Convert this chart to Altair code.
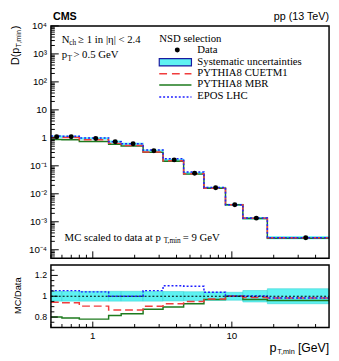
import altair as alt
import pandas as pd

# ---------------- data ----------------
bin_lo = [0.5, 0.6, 0.8, 1.3, 1.6, 2.3, 3.2, 4.5, 6.3, 9.0, 12.0, 18.0]
bin_hi = [0.6, 0.8, 1.3, 1.6, 2.3, 3.2, 4.5, 6.3, 9.0, 12.0, 18.0, 50.0]
pt_center = [0.55, 0.7, 1.05, 1.45, 1.95, 2.75, 3.85, 5.4, 7.65, 10.5, 15.0, 34.0]
data_D = [1.10, 1.09, 0.95, 0.73, 0.61, 0.346, 0.163, 0.0545, 0.0163, 0.00403, 0.00135, 0.000271]
syst_rel = [0.047, 0.047, 0.047, 0.047, 0.047, 0.047, 0.045, 0.043, 0.040, 0.038, 0.055, 0.072]
ratio_cuetm1 = [0.943, 0.937, 0.905, 0.868, 0.868, 0.903, 0.927, 0.950, 0.974, 1.000, 0.988, 0.984]
ratio_mbr = [0.800, 0.790, 0.780, 0.815, 0.832, 0.874, 0.896, 0.927, 0.969, 1.000, 0.969, 0.959]
ratio_epos = [1.054, 1.054, 1.042, 1.000, 1.000, 1.054, 1.100, 1.095, 1.038, 1.003, 1.003, 0.984]

x_major = [1, 10]
x_major_labels = ["1", "10"]
x_minor = [0.5, 0.6, 0.7, 0.8, 0.9, 2, 3, 4, 5, 6, 7, 8, 9, 20, 30, 40]
y_top_major = [1e-4, 1e-3, 1e-2, 1e-1, 1, 10, 100, 1000, 10000]
y_top_labels = ["10⁻⁴", "10⁻³", "10⁻²", "10⁻¹", "1", "10", "10²", "10³", "10⁴"]
y_top_minor = [k * 10.0 ** n for n in range(-5, 4) for k in range(2, 10) if 5e-5 <= k * 10.0 ** n <= 1e4]
y_rat_major = [0.8, 1.0, 1.2]
y_rat_labels = ["0.8", "1", "1.2"]
y_rat_minor = [0.75, 0.85, 0.9, 0.95, 1.05, 1.1, 1.15, 1.25]

# ---------------- styles ----------------
W, H = 285, 309
TOP_H = 238
R_TOP, R_BOT = 245, 309
SANS = "Liberation Sans"
SERIF = "Liberation Serif"
CYAN = "#5ef2f2"
RED = "#f03c3c"
GREEN = "#1e7b1e"
BLUE = "#1f1fff"

XS = alt.Scale(type="log", domain=[0.5, 50], nice=False)
YT = alt.Scale(type="log", domain=[5e-5, 1e4], range=[TOP_H, 0], nice=False)
YR = alt.Scale(type="linear", domain=[0.7, 1.3], range=[R_BOT, R_TOP], nice=False, zero=False)

dummy = pd.DataFrame({"a": [0]})


def txt(s, x, y, size=11, font=SANS, weight="normal", align="left", baseline="middle", angle=0):
    return alt.Chart(pd.DataFrame({"t": [s]})).mark_text(
        align=align, baseline=baseline, font=font, fontSize=size, fontWeight=weight,
        angle=angle, color="black").encode(x=alt.value(x), y=alt.value(y), text="t:N")


def steps(vals):
    xs, vs, os_ = [], [], []
    for i, (lo, hi, v) in enumerate(zip(bin_lo, bin_hi, vals)):
        xs += [lo, hi]
        vs += [v, v]
        os_ += [2 * i, 2 * i + 1]
    return pd.DataFrame({"x": xs, "v": vs, "o": os_})


def line(df, ys, color, dash=None, width=1.5):
    kw = dict(color=color, strokeWidth=width, clip=True)
    if dash:
        kw["strokeDash"] = dash
    return alt.Chart(df).mark_line(**kw).encode(
        x=alt.X("x:Q", scale=XS, axis=None),
        y=alt.Y("v:Q", scale=ys, axis=None),
        order="o:Q")


# ---------------- top panel ----------------
band_top = pd.DataFrame({
    "lo": bin_lo, "hi": bin_hi,
    "y1": [d * (1 - s) for d, s in zip(data_D, syst_rel)],
    "y2": [d * (1 + s) for d, s in zip(data_D, syst_rel)],
})
top_band = alt.Chart(band_top).mark_rect(fill=CYAN, stroke=CYAN, strokeWidth=1.2).encode(
    x=alt.X("lo:Q", scale=XS, axis=None), x2="hi:Q",
    y=alt.Y("y1:Q", scale=YT, axis=None), y2="y2:Q")

top_mbr = line(steps([r * d for r, d in zip(ratio_mbr, data_D)]), YT, GREEN)
top_cue = line(steps([r * d for r, d in zip(ratio_cuetm1, data_D)]), YT, RED, [8, 4])
top_epos = line(steps([r * d for r, d in zip(ratio_epos, data_D)]), YT, BLUE, [2, 2])

pts = alt.Chart(pd.DataFrame({"x": pt_center, "d": data_D})).mark_circle(
    size=26, color="black", opacity=1).encode(
    x=alt.X("x:Q", scale=XS, axis=None), y=alt.Y("d:Q", scale=YT, axis=None))

ytm = alt.Chart(pd.DataFrame({"v": y_top_major})).mark_rule(color="black", strokeWidth=1).encode(
    y=alt.Y("v:Q", scale=YT, axis=None), x=alt.value(0), x2=alt.value(8))
ytn = alt.Chart(pd.DataFrame({"v": y_top_minor})).mark_rule(color="black", strokeWidth=1).encode(
    y=alt.Y("v:Q", scale=YT, axis=None), x=alt.value(0), x2=alt.value(4))
ytl = alt.Chart(pd.DataFrame({"v": y_top_major, "t": y_top_labels})).mark_text(
    align="right", baseline="middle", font=SANS, fontSize=10, color="black").encode(
    y=alt.Y("v:Q", scale=YT, axis=None), x=alt.value(-4), text="t:N")

xt_top_major = alt.Chart(pd.DataFrame({"v": x_major})).mark_rule(color="black", strokeWidth=1).encode(
    x=alt.X("v:Q", scale=XS, axis=None), y=alt.value(TOP_H), y2=alt.value(TOP_H - 7))
xt_top_minor = alt.Chart(pd.DataFrame({"v": x_minor})).mark_rule(color="black", strokeWidth=1).encode(
    x=alt.X("v:Q", scale=XS, axis=None), y=alt.value(TOP_H), y2=alt.value(TOP_H - 3.5))

top_frame = alt.Chart(dummy).mark_rect(fill=None, stroke="black", strokeWidth=1.5).encode(
    x=alt.value(0), x2=alt.value(W), y=alt.value(0), y2=alt.value(TOP_H))

# legend
leg = [
    txt("NSD selection", 111, 13, 11, SERIF),
    alt.Chart(dummy).mark_circle(size=26, color="black", opacity=1).encode(
        x=alt.value(129.5), y=alt.value(24.7)),
    txt("Data", 150, 24.7, 11, SERIF),
    alt.Chart(dummy).mark_rect(fill=CYAN, stroke="#1a1aa0", strokeWidth=1.2).encode(
        x=alt.value(111), x2=alt.value(144), y=alt.value(33.5), y2=alt.value(41)),
    txt("Systematic uncertainties", 150, 37.3, 11, SERIF),
    alt.Chart(dummy).mark_rule(color=RED, strokeWidth=1.5, strokeDash=[8, 5]).encode(
        x=alt.value(111), x2=alt.value(144), y=alt.value(49)),
    txt("PYTHIA8 CUETM1", 150, 48.7, 11, SERIF),
    alt.Chart(dummy).mark_rule(color=GREEN, strokeWidth=1.5).encode(
        x=alt.value(111), x2=alt.value(144), y=alt.value(60.5)),
    txt("PYTHIA8 MBR", 150, 59.9, 11, SERIF),
    alt.Chart(dummy).mark_rule(color=BLUE, strokeWidth=1.5, strokeDash=[2, 2]).encode(
        x=alt.value(111), x2=alt.value(144), y=alt.value(72.8)),
    txt("EPOS LHC", 150, 72.3, 11, SERIF),
]

annots = [
    txt("CMS", 2, -9, 11, SANS, "bold"),
    txt("pp (13 TeV)", W, -9, 11, SANS, align="right"),
    txt("N", 11, 14, 11, SERIF),
    txt("ch", 18.8, 17.5, 7.5, SERIF),
    txt("≥ 1 in |η| < 2.4", 28, 14, 11, SERIF),
    txt("p", 11, 30, 11, SERIF),
    txt("T", 17, 33.5, 7.5, SERIF),
    txt("> 0.5 GeV", 23, 30, 11, SERIF),
    txt("MC scaled to data at p", 14, 217, 11, SERIF),
    txt("T,min", 115.5, 220.5, 7.5, SERIF),
    txt("= 9 GeV", 135, 217, 11, SERIF),
    # y title (rotated)
    txt("D(p", -36, 40, 11, SANS, angle=270),
    txt("T,min", -32.5, 22, 7.5, SANS, angle=270),
    txt(")", -36, 3.5, 11, SANS, angle=270),
    # ratio y title
    txt("MC/Data", -34, 276.5, 9.5, SANS, align="center", angle=270),
    # x title
    txt("p", 224, 330, 13, SANS),
    txt("T,min", 232, 334, 7.5, SANS),
    txt("[GeV]", W, 330, 12.5, SANS, align="right"),
]

top_layer = alt.layer(top_band, top_mbr, top_cue, top_epos, pts, ytm, ytn, ytl,
                      xt_top_major, xt_top_minor, top_frame, *leg, *annots)

# ---------------- ratio panel ----------------
band_r = pd.DataFrame({
    "lo": bin_lo, "hi": bin_hi,
    "y1": [1 - s for s in syst_rel],
    "y2": [1 + s for s in syst_rel],
})
r_band = alt.Chart(band_r).mark_rect(fill=CYAN, stroke="#3ad6d6", strokeWidth=0.6).encode(
    x=alt.X("lo:Q", scale=XS, axis=None), x2="hi:Q",
    y=alt.Y("y1:Q", scale=YR, axis=None), y2="y2:Q")
r_mbr = line(steps(ratio_mbr), YR, GREEN)
r_cue = line(steps(ratio_cuetm1), YR, RED, [8, 4])
r_epos = line(steps(ratio_epos), YR, BLUE, [2, 2])
r_one = alt.Chart(pd.DataFrame({"v": [1.0]})).mark_rule(color="black", strokeWidth=1.2, strokeDash=[2, 2]).encode(
    y=alt.Y("v:Q", scale=YR, axis=None), x=alt.value(0), x2=alt.value(W))

yrm = alt.Chart(pd.DataFrame({"v": y_rat_major})).mark_rule(color="black", strokeWidth=1).encode(
    y=alt.Y("v:Q", scale=YR, axis=None), x=alt.value(0), x2=alt.value(7))
yrn = alt.Chart(pd.DataFrame({"v": y_rat_minor})).mark_rule(color="black", strokeWidth=1).encode(
    y=alt.Y("v:Q", scale=YR, axis=None), x=alt.value(0), x2=alt.value(3.5))
yrl = alt.Chart(pd.DataFrame({"v": y_rat_major, "t": y_rat_labels})).mark_text(
    align="right", baseline="middle", font=SANS, fontSize=9, color="black").encode(
    y=alt.Y("v:Q", scale=YR, axis=None), x=alt.value(-4), text="t:N")

xr_major = alt.Chart(pd.DataFrame({"v": x_major})).mark_rule(color="black", strokeWidth=1).encode(
    x=alt.X("v:Q", scale=XS, axis=None), y=alt.value(R_BOT), y2=alt.value(R_BOT - 6))
xr_minor = alt.Chart(pd.DataFrame({"v": x_minor})).mark_rule(color="black", strokeWidth=1).encode(
    x=alt.X("v:Q", scale=XS, axis=None), y=alt.value(R_BOT), y2=alt.value(R_BOT - 3.5))
xr_lab = alt.Chart(pd.DataFrame({"v": x_major, "t": x_major_labels})).mark_text(
    align="center", baseline="middle", font=SANS, fontSize=10, color="black").encode(
    x=alt.X("v:Q", scale=XS, axis=None), y=alt.value(R_BOT + 9), text="t:N")

r_frame = alt.Chart(dummy).mark_rect(fill=None, stroke="black", strokeWidth=1.5).encode(
    x=alt.value(0), x2=alt.value(W), y=alt.value(R_TOP), y2=alt.value(R_BOT))

ratio_layer = alt.layer(r_band, r_mbr, r_cue, r_epos, r_one, yrm, yrn, yrl,
                        xr_major, xr_minor, xr_lab, r_frame)

chart = alt.layer(top_layer, ratio_layer).resolve_scale(y="independent").properties(
    width=W, height=H,
    autosize=alt.AutoSizeParams(type="none"),
    padding={"left": 44, "top": 14, "right": 2, "bottom": 30},
).configure_view(stroke=None)

chart.save("out.html", embed_options={"renderer": "svg", "actions": False})
